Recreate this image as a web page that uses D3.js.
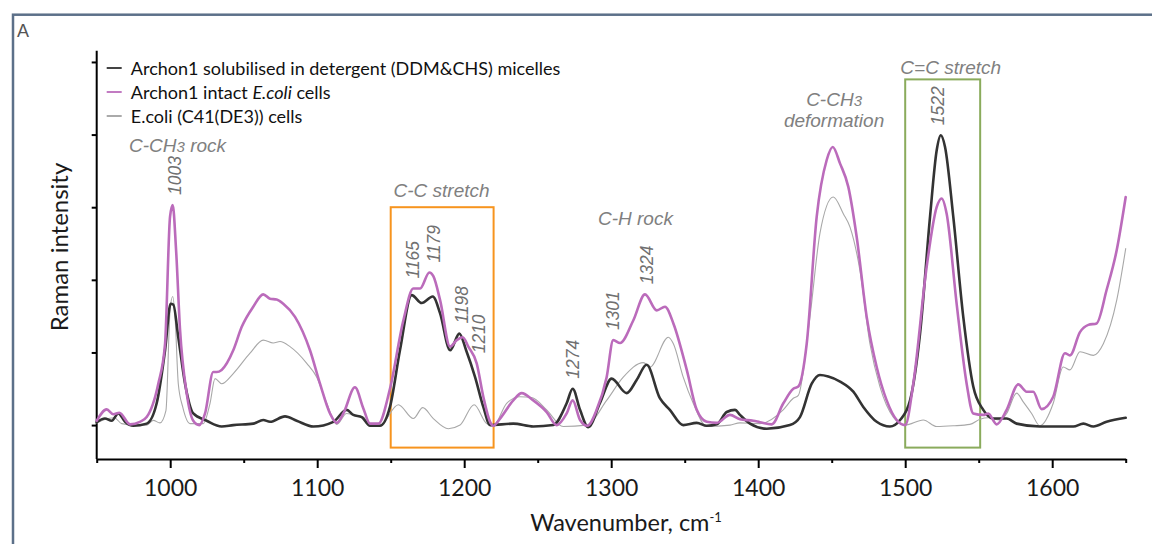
<!DOCTYPE html>
<html><head><meta charset="utf-8">
<script src="https://cdn.jsdelivr.net/npm/d3@7"></script>
<style>body{margin:0;background:#fff}svg{display:block}</style>
</head><body>
<svg id="c" width="1152" height="544"></svg>
<script>
// ---------- data ----------
const seriesNames = ["Archon1 solubilised in detergent (DDM&CHS) micelles", "Archon1 intact E.coli cells", "E.coli (C41(DE3)) cells"];

const darkWn = [950,955.6,960.2,964.7,969.3,974.9,984,990.8,996.5,1000.3,1002.1,1005.5,1010.1,1015.7,1024.8,1035,1042.9,1056.5,1063.3,1067.9,1078.1,1086,1097.4,1111,1120,1124.6,1130.3,1135.9,1142.7,1149.5,1156.3,1164.3,1171.1,1178.6,1183.6,1190.4,1196.7,1201.3,1207.4,1213,1217.6,1233.4,1247,1260.6,1269.7,1273.8,1278.8,1284.4,1292.3,1300.3,1310.5,1317.3,1324.1,1333.1,1339.9,1349,1358.2,1365,1371.8,1378.6,1384.2,1387.6,1394.4,1405.8,1421.6,1428.4,1436.4,1442,1447.7,1455.7,1464.7,1471.5,1480.6,1489.6,1496.5,1503.3,1510.1,1516.9,1521.4,1524.2,1527.1,1532.7,1539.5,1546.3,1553.1,1559.9,1569,1575.8,1591.6,1614.4,1621.2,1628,1637,1650];
const darkVal = [0.04,0.09,0.06,0.16,0.045,-0.01,0.02,0.3,1.03,1.67,1.66,1.21,0.57,0.16,0.06,-0.02,0,0.02,0.07,0.045,0.12,0.06,-0.02,0.045,0.21,0.14,0.11,-0.01,-0.01,0.25,1.03,1.79,1.68,1.77,1.54,1.03,1.26,1.03,0.66,0.25,0,0.02,-0.02,0,0.3,0.5,0.21,-0.03,0.3,0.64,0.44,0.62,0.83,0.37,0.21,0,0.03,-0.01,0.01,0.18,0.21,0.14,0.02,-0.05,0,0.11,0.57,0.69,0.67,0.6,0.46,0.25,0.045,-0.02,0.07,0.34,1.26,2.87,3.78,3.99,3.83,2.87,1.49,0.53,0.21,0.09,0.09,0.02,-0.02,-0.02,0.02,-0.02,0.045,0.1];

const purpleWn = [950,956.8,961.3,965.4,972.7,979.4,984,991.9,996.5,999.9,1001.7,1004,1006.7,1011.2,1015.7,1019.8,1023.7,1029.3,1031.6,1035,1042.9,1048.6,1056.5,1063.3,1067.9,1072.4,1076.9,1084.9,1095.1,1101.9,1108.7,1113.3,1117.8,1125.7,1131.4,1135.9,1141.6,1149.5,1158.6,1165.4,1170,1176.3,1179,1183.6,1190.4,1194.9,1199,1202.8,1208.5,1213,1217.6,1219.8,1224.4,1233.4,1239.1,1247,1256.1,1262.9,1269.7,1273.8,1278.8,1283.8,1290.1,1296.9,1301.4,1306,1315,1323,1331,1336.6,1342.3,1351.4,1358.2,1365,1371.8,1380.8,1387.6,1396.7,1401.2,1409.2,1417.1,1423.9,1427.3,1433,1439.8,1446.6,1450.7,1455.7,1461.3,1467,1473.8,1480.6,1487.4,1494.2,1500,1505.5,1514.6,1521.4,1524.8,1528.2,1535,1541.8,1546.3,1553.1,1556.5,1562.2,1569,1576.9,1582.6,1587.1,1592.8,1600.7,1608.7,1612.1,1618.9,1624.6,1630.2,1637,1643.9,1650];
const purpleVal = [0.06,0.216,0.15,0.17,0.01,0.045,0.11,0.57,1.12,2.87,3.03,2.41,1.31,0.44,0.06,0,0.16,0.73,0.73,0.76,1.03,1.35,1.63,1.8,1.74,1.73,1.67,1.49,1.03,0.57,0.16,0.03,0.16,0.52,0.23,0.02,0.02,0.5,1.44,1.88,1.88,2.1,2.05,1.72,1.08,1.17,1.21,1.08,0.85,0.39,0.045,-0.01,0.09,0.34,0.44,0.34,0.18,0,0.16,0.34,0.07,-0.01,0.21,0.66,1.17,1.13,1.44,1.8,1.58,1.63,1.4,0.76,0.21,0.045,0.03,0.14,0.08,0.06,0.04,0.01,0.3,0.5,0.53,1.12,2.87,3.65,3.83,3.6,3.28,2.59,1.49,0.8,0.34,0.07,0,0.57,2.18,3.0,3.12,2.91,1.67,0.57,0.16,0.14,0.16,0.01,0.21,0.56,0.46,0.46,0.22,0.39,0.99,0.96,1.28,1.38,1.4,1.86,2.41,3.14];

const grayWn = [950,957.9,962,967,975,984,988.5,993,997.1,999.9,1001.7,1003.3,1005.5,1008.5,1013.5,1022.5,1027.1,1030.5,1035,1042.9,1054.3,1063.3,1070.1,1074.7,1081.5,1092.9,1099.7,1106.5,1113.3,1120,1124.6,1131.4,1136,1142.7,1155.2,1165.4,1171.8,1179,1189.2,1197.2,1206.7,1215.3,1219.8,1228.9,1237.9,1245.9,1256.1,1267.3,1283.3,1296.9,1308.2,1321.9,1326.4,1338.9,1342.3,1349,1355.8,1365,1380.8,1387.6,1401,1417,1423.9,1427.3,1435.2,1442,1451.1,1457.9,1462.4,1469.2,1476,1482.8,1491.9,1500,1512.3,1521.4,1532.7,1544,1550.9,1556.5,1564.4,1569,1575.8,1580.3,1586,1591.6,1600.7,1607.5,1612.1,1618.9,1628,1634.8,1643.9,1650];
const grayVal = [0.03,0.09,0.1,0.02,0,0,0.065,0.03,0.2,1.58,1.77,1.49,0.57,0.25,0.02,0.02,0.3,0.64,0.57,0.71,0.99,1.17,1.13,1.15,1.08,0.85,0.66,0.3,0.01,0.16,0.14,0.11,0,0,0.28,0.09,0.24,0.09,-0.05,0,0.28,0.02,-0.01,0.3,0.39,0.38,0.21,-0.02,0,0.34,0.66,0.86,0.8,1.21,1.12,0.66,0.3,-0.02,0,0.03,0.02,0.21,0.37,0.41,1.49,2.64,3.14,2.91,2.73,2.13,1.12,0.53,0.11,0,0.07,-0.02,-0.01,0.01,0.08,0.1,0.07,0.16,0.44,0.32,0.16,-0.01,0.3,0.8,0.76,1.01,0.96,1.12,1.72,2.43];

const majorTicks = [1000,1100,1200,1300,1400,1500,1600];
const minorTicks = [950,1050,1150,1250,1350,1450,1550,1650];
const yTicks = [0,1,2,3,4,5];

const peakLabels = ["1003","1165","1179","1198","1210","1274","1301","1324","1522"];
const peakWn = [1003,1165,1179,1198,1210,1274,1301,1324,1522];

const bandNames = ["C-C stretch","C=C stretch"];
const bandFrom = [1150,1500];
const bandTo = [1220,1551];

// ---------- layout ----------
const svg = d3.select("#c");
const x = d3.scaleLinear().domain([950,1650]).range([96.7,1125.7]);
const y = d3.scaleLinear().domain([-0.467,5.155]).range([459,50.7]);
const sans = "Lato, 'Open Sans', sans-serif";
const ital = "'Liberation Sans', Arial, sans-serif";

svg.append("rect").attr("width",1152).attr("height",544).attr("fill","#fff");
svg.append("rect").attr("x",13).attr("y",14.7).attr("width",1200).attr("height",600)
  .attr("fill","none").attr("stroke","#5c7089").attr("stroke-width",2.5);
svg.append("text").attr("x",17).attr("y",37).attr("font-family",ital).attr("font-size",18)
  .attr("fill","#555").text("A");

// boxes
const bandColors = ["#f7941e","#8aab5c"];
const boxTop = [3.0, 4.76];
bandFrom.forEach((f,i)=>{
  svg.append("rect").attr("x",x(f)).attr("y",y(boxTop[i]))
    .attr("width",x(bandTo[i])-x(f)).attr("height",y(-0.31)-y(boxTop[i]))
    .attr("fill","none").attr("stroke",bandColors[i]).attr("stroke-width",2);
});

// axes
const gx = svg.append("g").attr("transform","translate(0,459)");
gx.call(d3.axisBottom(x).tickValues(minorTicks).tickSize(4).tickSizeOuter(0).tickFormat(""));
gx.append("g").call(d3.axisBottom(x).tickValues(majorTicks).tickSize(9).tickSizeOuter(0).tickFormat(d3.format("d")))
  .call(g=>g.select(".domain").remove());
gx.selectAll("path.domain").attr("stroke","#000").attr("stroke-width",2);
gx.selectAll(".tick line").attr("stroke","#000").attr("stroke-width",2);
gx.selectAll(".tick text").attr("y",37).attr("dy",0).attr("font-family",sans)
  .attr("font-size",23).attr("fill","#1a1a1a");

const gy = svg.append("g").attr("transform","translate(96.7,0)");
gy.call(d3.axisLeft(y).tickValues(yTicks).tickSize(5).tickSizeOuter(0).tickFormat(""));
gy.select(".domain").attr("d",`M0,${y.range()[0]}V${y.range()[1]}`).attr("stroke","#000").attr("stroke-width",2);
gy.selectAll(".tick line").attr("stroke","#000").attr("stroke-width",2);

// axis titles
const xt = svg.append("text").attr("x",626).attr("y",531).attr("text-anchor","middle")
  .attr("font-family",sans).attr("font-size",23.5).attr("fill","#1a1a1a");
xt.append("tspan").text("Wavenumber, cm");
xt.append("tspan").attr("dy",-9).attr("font-size",13).text("-1");
svg.append("text").attr("transform","translate(68,247) rotate(-90)").attr("text-anchor","middle")
  .attr("font-family",sans).attr("font-size",24).attr("fill","#1a1a1a").text("Raman intensity");

// lines
const series = [
  {wn:grayWn, v:grayVal, color:"#a8a8a8", w:1.1},
  {wn:darkWn, v:darkVal, color:"#333333", w:2.6},
  {wn:purpleWn, v:purpleVal, color:"#bb6bbb", w:2.6}
];
const line = d3.line().x(d=>x(d[0])).y(d=>y(d[1])).curve(d3.curveMonotoneX);
series.forEach(s=>{
  svg.append("path").datum(s.wn.map((w,i)=>[w,s.v[i]])).attr("d",line)
    .attr("fill","none").attr("stroke",s.color).attr("stroke-width",s.w)
    .attr("stroke-linejoin","round").attr("stroke-linecap","round");
});

// peak labels
peakWn.forEach((p,i)=>{
  let m = -Infinity;
  series.forEach(s=>s.wn.forEach((w,j)=>{ if (Math.abs(w-p)<=5) m=Math.max(m,s.v[j]); }));
  svg.append("text").attr("transform",`translate(${x(p)+6.5},${y(m)-10}) rotate(-90)`)
    .attr("font-family",ital).attr("font-style","italic").attr("font-size",17.5)
    .attr("fill","#707070").text(peakLabels[i]);
});

// group labels
function groupLabel(parts, w, v){
  const t = svg.append("text").attr("x",x(w)).attr("y",y(v)).attr("text-anchor","middle")
    .attr("font-family",ital).attr("font-style","italic").attr("font-size",19).attr("fill","#808080");
  parts.forEach(p=>{ const s=t.append("tspan").text(p[0]); if(p[1]) s.attr("font-size",15); });
}
groupLabel([["C-CH"],["3",1],[" rock"]], 1005, 3.76);
groupLabel([[bandNames[0]]], 1184.6, 3.14);
groupLabel([["C-H rock"]], 1316.5, 2.75);
groupLabel([["C-CH"],["3",1]], 1451.6, 4.40);
groupLabel([["deformation"]], 1451.6, 4.10);
groupLabel([[bandNames[1]]], 1531, 4.84);

// legend
const legColors = ["#444444","#c27bc2","#aaaaaa"];
seriesNames.forEach((n,i)=>{
  const ly = 68 + i*24;
  svg.append("line").attr("x1",106.7).attr("x2",121.7).attr("y1",ly).attr("y2",ly)
    .attr("stroke",legColors[i]).attr("stroke-width",2);
  const t = svg.append("text").attr("x",130.8).attr("y",ly+6.5).attr("font-family",sans)
    .attr("font-size",18).attr("fill","#111");
  if (i===1){
    t.append("tspan").text("Archon1 intact ");
    t.append("tspan").attr("font-style","italic").text("E.coli");
    t.append("tspan").text(" cells");
  } else t.text(n);
});
</script>
</body></html>
